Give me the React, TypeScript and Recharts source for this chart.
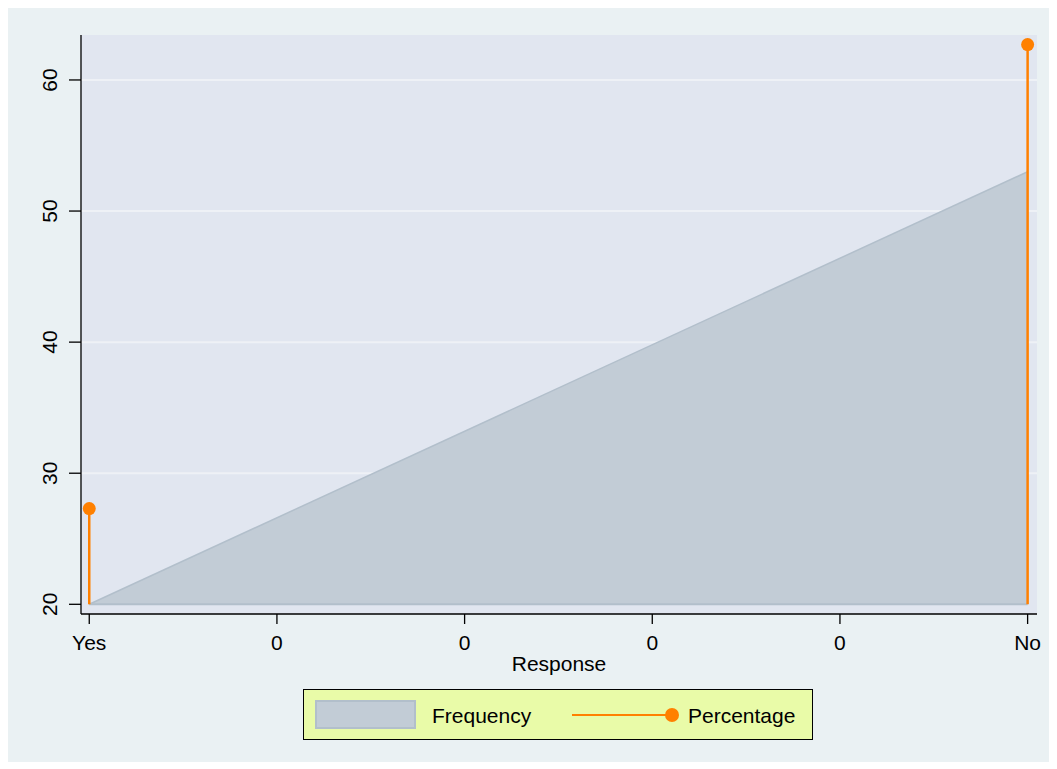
import {
  Area,
  CartesianGrid,
  ComposedChart,
  ReferenceLine,
  Scatter,
  XAxis,
  YAxis,
} from "recharts";

// x positions and labels of the response axis
const tickPositions = [0, 1, 2, 3, 4, 5];
const responseLabels = ["Yes", "0", "0", "0", "0", "No"];

// frequency area (two endpoints)
const freqX = [0, 5];
const freqValues = [20, 53];

// percentage spikes
const pctX = [0, 5];
const pctValues = [27.3, 62.7];

const yTicks = [20, 30, 40, 50, 60];
const BASE = 20;

const ORANGE = "#ff8000";
const AREA_FILL = "#c2ccd6";
const AREA_LINE = "#b2bfcb";
const FONT = "'Liberation Sans', Arial, sans-serif";

const freqData = freqX.map((x, i) => ({ x, freq: freqValues[i] }));
const pctData = pctX.map((x, i) => ({ x, pct: pctValues[i] }));

function YTick({ x, y, payload }: any) {
  return (
    <text
      transform={`translate(${x - 10},${y}) rotate(-90)`}
      textAnchor="middle"
      fontSize={21}
      fontFamily={FONT}
      fill="#000"
    >
      {payload.value}
    </text>
  );
}

function SpikeDot({ cx, cy }: any) {
  return <circle cx={cx} cy={cy} r={6.5} fill={ORANGE} />;
}

export default function App() {
  return (
    <div
      style={{
        position: "relative",
        width: 1043,
        height: 755,
        margin: "-1px 0 0 -1px",
        background: "#eaf1f3",
        fontFamily: FONT,
      }}
    >
      <ComposedChart
        width={1043}
        height={755}
        data={freqData}
        margin={{ top: 28, right: 13, left: 0, bottom: 0 }}
      >
        <CartesianGrid
          horizontal
          vertical={false}
          fill="#e1e6f0"
          stroke="#eef1f6"
          strokeWidth={2}
          horizontalValues={[30, 40, 50, 60]}
        />
        <XAxis
          dataKey="x"
          type="number"
          domain={[-0.044, 5.05]}
          ticks={tickPositions}
          tickFormatter={(v: number) => responseLabels[v]}
          allowDataOverflow
          height={148}
          stroke="#000"
          strokeWidth={1.3}
          tickSize={10}
          tickMargin={11}
          tick={{ fill: "#000", fontSize: 21, fontFamily: FONT }}
          label={{
            value: "Response",
            position: "insideTop",
            offset: 42,
            fill: "#000",
            fontSize: 21,
            fontFamily: FONT,
          }}
        />
        <YAxis
          type="number"
          domain={[19.26, 63.43]}
          ticks={yTicks}
          allowDataOverflow
          width={74}
          stroke="#000"
          strokeWidth={1.3}
          tickSize={12}
          tick={<YTick />}
        />
        <Area
          dataKey="freq"
          type="linear"
          baseValue={BASE}
          fill={AREA_FILL}
          fillOpacity={1}
          stroke={AREA_LINE}
          strokeWidth={1.5}
          isAnimationActive={false}
        />
        <ReferenceLine
          segment={[
            { x: freqX[0], y: BASE },
            { x: freqX[freqX.length - 1], y: BASE },
          ]}
          stroke={AREA_LINE}
          strokeWidth={2}
        />
        {pctData.map((d) => (
          <ReferenceLine
            key={d.x}
            segment={[
              { x: d.x, y: BASE },
              { x: d.x, y: d.pct },
            ]}
            stroke={ORANGE}
            strokeWidth={2.5}
          />
        ))}
        <Scatter
          data={pctData}
          dataKey="pct"
          shape={<SpikeDot />}
          isAnimationActive={false}
        />
      </ComposedChart>

      {/* legend box */}
      <div
        style={{
          position: "absolute",
          left: 296,
          top: 682,
          width: 508,
          height: 49,
          background: "#e9fba8",
          border: "1px solid #000",
          fontSize: 21,
          color: "#000",
        }}
      >
        <div
          style={{
            position: "absolute",
            left: 11,
            top: 10,
            width: 97,
            height: 25,
            background: AREA_FILL,
            border: `2px solid ${AREA_LINE}`,
          }}
        />
        <span style={{ position: "absolute", left: 128, top: 14, lineHeight: "24px" }}>
          Frequency
        </span>
        <div
          style={{
            position: "absolute",
            left: 268,
            top: 24,
            width: 100,
            height: 2,
            background: ORANGE,
          }}
        />
        <div
          style={{
            position: "absolute",
            left: 361,
            top: 18,
            width: 14,
            height: 14,
            borderRadius: 7,
            background: ORANGE,
          }}
        />
        <span style={{ position: "absolute", left: 384, top: 14, lineHeight: "24px" }}>
          Percentage
        </span>
      </div>
    </div>
  );
}
